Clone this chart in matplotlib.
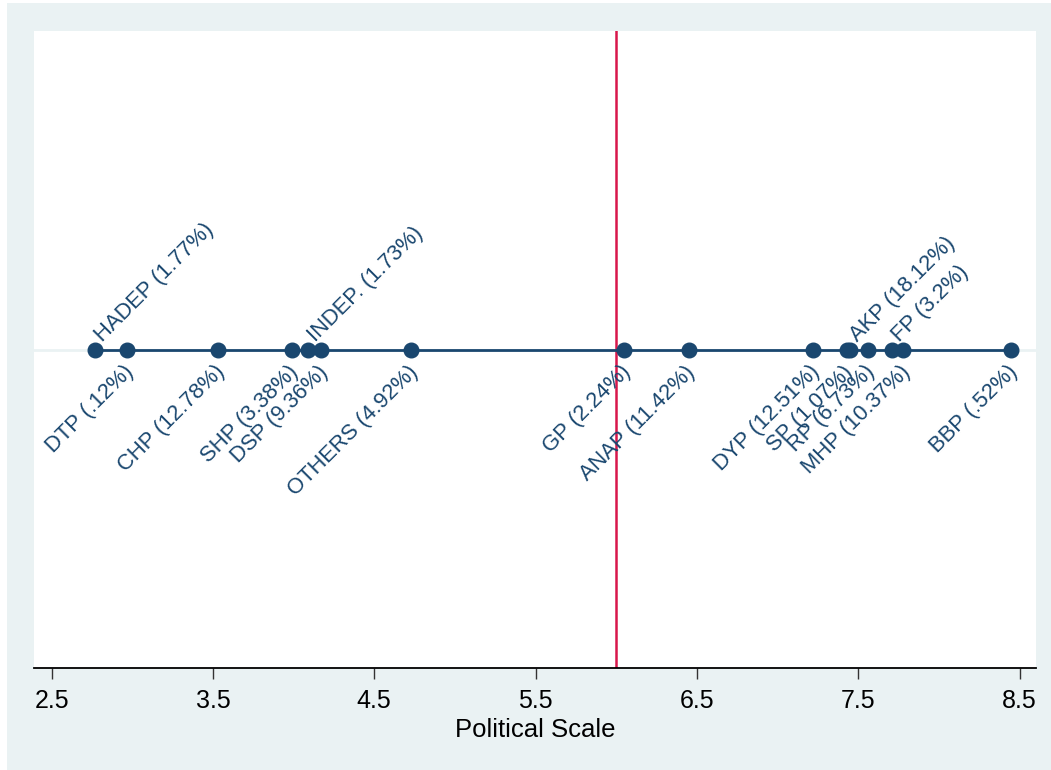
import matplotlib
matplotlib.use("Agg")
import matplotlib.pyplot as plt
from matplotlib.patches import Rectangle

# ---- data ----
parties = ["HADEP", "DTP", "CHP", "SHP", "INDEP.", "DSP", "OTHERS", "GP",
           "ANAP", "DYP", "SP", "AKP", "RP", "FP", "MHP", "BBP"]
scale = [2.77, 2.97, 3.53, 3.99, 4.09, 4.17, 4.73, 6.05,
         6.45, 7.22, 7.43, 7.45, 7.56, 7.71, 7.78, 8.45]
shares = ["1.77", ".12", "12.78", "3.38", "1.73", "9.36", "4.92", "2.24",
          "11.42", "12.51", "1.07", "18.12", "6.73", "3.2", "10.37", ".52"]
labels_above = ["HADEP", "INDEP.", "AKP", "FP"]
center = 6.0
xticks = [2.5, 3.5, 4.5, 5.5, 6.5, 7.5, 8.5]
xlabel = "Political Scale"

plt.rcParams['font.family'] = ['Liberation Sans', 'DejaVu Sans']

navy = '#1A476F'
bg = '#EAF2F3'
red = '#D8174B'

W, H = 1051, 770
fig = plt.figure(figsize=(W / 100, H / 100), dpi=100, facecolor='white')
fig.patches.append(Rectangle((7 / W, 0), 1 - 7 / W, 1 - 3 / H, transform=fig.transFigure,
                             facecolor=bg, edgecolor='none', zorder=-10))

left, right, top, bottom = 34, 1036, 31, 668
ax = fig.add_axes([left / W, 1 - bottom / H, (right - left) / W, (bottom - top) / H])
ax.set_facecolor('white')

ax.set_xlim(2.391, 8.602)
ax.set_ylim(0, 2)

# gridline
ax.axhline(1, color=bg, lw=2, zorder=1)
# reference line
ax.axvline(center, color=red, lw=1.8, zorder=2)

ys = [1] * len(scale)
ax.plot(scale, ys, color=navy, lw=2, zorder=3)
ax.plot(scale, ys, 'o', color=navy, ms=10.5, zorder=4)

for name, x, s in zip(parties, scale, shares):
    txt = f"{name} ({s}%)"
    if name in labels_above:
        ax.annotate(txt, (x, 1), xytext=(7, 7), textcoords='offset pixels',
                    rotation=45, rotation_mode='anchor', ha='left', va='baseline',
                    fontsize=15.8, color=navy, zorder=5)
    else:
        ax.annotate(txt, (x, 1), xytext=(-4, -12), textcoords='offset pixels',
                    rotation=45, rotation_mode='anchor', ha='right', va='top',
                    fontsize=15.8, color=navy, zorder=5)

for sp in ['left', 'right', 'top']:
    ax.spines[sp].set_visible(False)
ax.spines['bottom'].set_linewidth(1.3)
ax.spines['bottom'].set_color('black')

ax.set_yticks([])
ax.set_xticks(xticks)
ax.set_xticklabels([f"{t:g}" for t in xticks])
ax.tick_params(axis='x', direction='out', length=8, width=1, color='#333333',
               labelsize=18, pad=7)
ax.set_xlabel(xlabel, fontsize=18.5, labelpad=4)

fig.savefig("out.png", dpi=100, facecolor=fig.get_facecolor())
